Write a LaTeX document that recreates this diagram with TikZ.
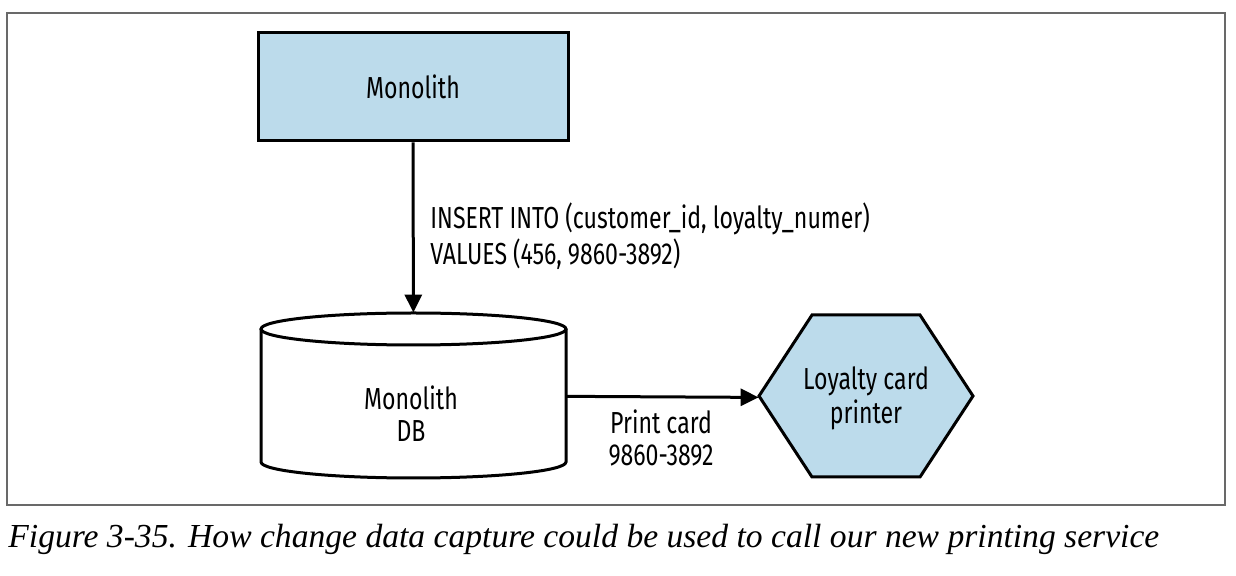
\documentclass[tikz,border=0pt]{standalone}
\usepackage{fontspec}
\setsansfont{Fira Sans}[FakeStretch=0.76]
\newfontfamily\capfont{Liberation Serif}
\usetikzlibrary{arrows.meta,positioning}
\definecolor{boxblue}{RGB}{188,219,235}
\definecolor{framegray}{RGB}{105,105,105}

\begin{document}
\begin{tikzpicture}[
    x=0.5pt, y=-0.5pt,
    lbl/.style={font=\sffamily\fontsize{15.2}{15}\selectfont, align=center, inner sep=0pt},
    bluebox/.style={rectangle, draw, line width=1.5pt, fill=boxblue, lbl},
    arr/.style={-{Triangle[length=9pt,width=8.5pt]}, line width=1.5pt}
]
\useasboundingbox (0,0) rectangle (1236,576);
\draw[framegray, line width=0.6pt] (7,13) rectangle (1225,505);

\node[bluebox, minimum width=155pt, minimum height=54pt] (monolith) at (413,87) {Monolith};

% database cylinder
\node[lbl, minimum width=152.5pt, minimum height=82.5pt] (db) at (413.5,395.5) {};
\draw[line width=1.5pt, fill=white] (261,329) -- (261,462) arc[start angle=180, end angle=0, x radius=152.5, y radius=16] -- (566,329);
\draw[line width=1.5pt, fill=white] (413.5,329) ellipse[x radius=152.5, y radius=16];
\node[lbl] (dbtext) at (411,414) {Monolith\\[1pt]DB};

% printer hexagon
\draw[line width=1.5pt, fill=boxblue] (759,396) -- (812,315) -- (920,315) -- (973,396) -- (920,477) -- (812,477) -- cycle;
\node[lbl, minimum width=107pt, minimum height=81pt] (printer) at (866,398) {Loyalty card\\[1pt]printer};

\draw[arr] (monolith) -- (db);
\draw[arr] (db) -- (printer);

\node[lbl, anchor=north west, align=left] (insert) at (430,202) {INSERT INTO (customer\_id, loyalty\_numer)\\[1pt]VALUES (456, 9860-3892)};
\node[lbl] (printlbl) at (661,438) {Print card\\[1pt]9860-3892};

\node[anchor=base west, inner sep=0pt, font=\capfont\itshape\fontsize{16.8}{20}\selectfont] (caption) at (8,547) {Figure 3-35. How change data capture could be used to call our new printing service};
\end{tikzpicture}
\end{document}
